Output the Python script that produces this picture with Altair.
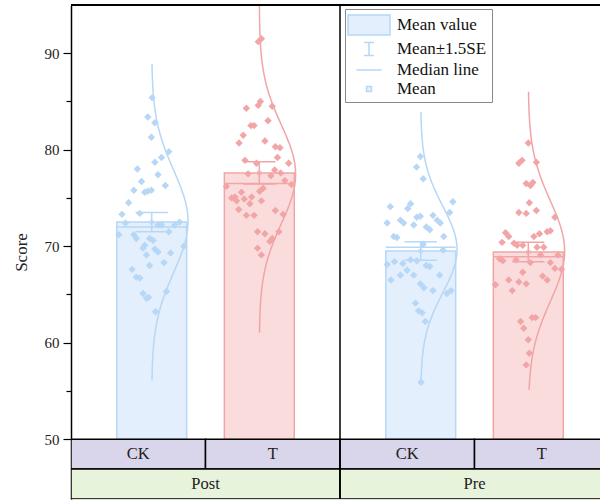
import altair as alt
import pandas as pd

# ---------------- data ----------------
conditions = ["Post", "Pre"]
groups = ["CK", "T"]

means = [72.5, 77.6, 69.5, 69.4]          # bar heights (mean value)
se15 = [1.0, 1.15, 0.95, 1.0]             # 1.5 * SE
medians = [72.0, 76.5, 69.9, 68.9]        # median line
curve_lo = [56, 61, 56, 55]               # extent of the distribution curves
curve_hi = [89, 97, 84, 86]

post_ck = [85.4, 83.4, 82.8, 81.3, 79.8, 79.2, 78.7, 78.0, 77.4, 76.7,
           76.3, 75.8, 75.6, 75.7, 75.8, 74.5, 73.3, 73.4, 72.4, 72.2,
           72.2, 72.2, 72.5, 71.2, 71.2, 70.8, 70.8, 70.6, 70.1, 69.8,
           69.7, 69.4, 69.3, 69.1, 71.5, 70.0, 68.0, 68.3, 67.6, 66.8,
           66.7, 65.1, 64.7, 64.6, 65.3, 63.2]
post_ck_jit = [0.01, -0.11, 0.09, -0.01, 0.49, 0.28, 0.09, -0.41, 0.18, -0.29,
               0.39, -0.51, -0.2, -0.11, -0.01, -0.66, -0.85, -0.34, -0.75, 0.18,
               0.28, 0.66, 0.8, -0.94, -0.51, -0.44, -0.06, 0.04, -0.2, -0.25,
               0.09, 0.18, 0.54, -0.15, 0.49, 0.92, -0.06, 0.35, -0.56, -0.44,
               -0.34, -0.25, -0.09, -0.15, 0.42, 0.11]

post_t = [91.2, 91.5, 84.3, 84.6, 85.0, 84.5, 82.5, 82.5, 83.0, 81.5,
          80.7, 80.9, 80.3, 80.2, 79.2, 78.9, 78.6, 78.6, 77.9, 77.5,
          77.6, 77.3, 76.8, 76.2, 76.4, 76.0, 75.7, 75.6, 75.0, 75.1,
          74.7, 74.9, 75.1, 74.7, 74.4, 73.8, 73.2, 73.2, 73.7, 73.3,
          71.5, 71.3, 71.5, 70.5, 70.8, 69.8, 69.1]
post_t_jit = [-0.03, 0.06, -0.37, -0.03, 0.03, 0.37, -0.24, -0.15, 0.25, -0.46,
              -0.58, 0.16, 0.46, 0.59, 0.52, -0.41, -0.08, 0.84, 0.44, -0.32,
              0.61, 0.33, 0.73, -0.94, 0.92, 0.11, 0.01, -0.51, -0.79, -0.7,
              -0.65, -0.43, -0.22, 0.06, -0.27, -0.59, -0.37, -0.15, 0.46, 0.68,
              -0.05, 0.16, 0.56, 0.3, 0.37, -0.05, 0.06]

pre_ck = [79.3, 78.2, 77.0, 74.1, 73.9, 74.4, 74.6, 73.5, 72.4, 72.7,
          72.4, 73.0, 73.1, 72.2, 73.2, 72.7, 72.4, 72.0, 71.7, 71.0,
          70.9, 71.0, 70.2, 69.6, 68.4, 68.1, 68.2, 68.6, 68.5, 67.5,
          68.0, 67.9, 66.5, 67.0, 67.0, 67.0, 66.1, 65.7, 65.4, 65.1,
          65.4, 64.1, 63.3, 63.1, 62.2, 55.9]
pre_ck_jit = [-0.01, -0.12, 0.07, -0.87, -0.37, -0.29, 0.92, 0.83, -0.96, -0.58,
              -0.49, -0.11, -0.01, -0.2, 0.35, 0.47, 0.56, 0.16, 0.26, -0.77,
              -0.68, 0.66, 0.07, 0.64, -0.75, -0.96, -0.51, -0.29, -0.11, -0.39,
              0.16, 0.26, -0.85, -0.58, -0.2, 0.54, -0.01, 0.09, 0.35, 0.75,
              0.87, -0.15, -0.06, 0.04, 0.13, 0.01]

pre_t = [80.7, 78.6, 78.9, 78.7, 76.5, 76.3, 76.6, 74.5, 73.5, 73.4,
         73.7, 73.0, 71.4, 71.0, 70.4, 70.3, 70.1, 70.1, 71.0, 71.3,
         71.5, 71.6, 69.9, 69.9, 68.7, 68.5, 68.6, 68.3, 69.1, 69.1,
         68.3, 67.7, 67.6, 67.3, 66.0, 66.5, 66.3, 66.1, 65.4, 66.9,
         66.5, 62.2, 62.6, 62.6, 61.5, 60.3, 58.9, 57.7]
pre_t_jit = [0.0, -0.27, -0.18, 0.23, -0.06, 0.06, 0.13, 0.03, -0.27, -0.06,
             0.23, 0.76, -0.65, -0.56, -0.75, -0.41, -0.32, -0.16, 0.16, 0.32,
             0.54, 0.63, 0.25, 0.44, -0.82, -0.73, -0.35, 0.06, 0.35, 0.85,
             0.63, 0.76, 0.95, -0.16, -0.94, -0.56, -0.27, -0.06, -0.46, 0.41,
             0.54, -0.22, 0.11, 0.21, -0.13, 0.0, 0.03, -0.06]

legend_items = ["Mean value", "Mean\u00b11.5SE", "Median line", "Mean"]

# ---------------- layout constants ----------------
HALF = 0.26        # bar half width (x units)
CAP = 0.12         # error-bar cap half width
CURVE_W = 0.27     # peak width of distribution curve
XMAX = 3.933
Y_TOP = 95.0
Y_AX = 50.0
Y_B1 = 46.9
Y_B2 = 43.8

BLUE_FILL, BLUE_LINE, BLUE_PT = "#e3effc", "#b6d7f6", "#a3cbf3"
RED_FILL, RED_LINE, RED_PT = "#fadcdd", "#f2a5a7", "#f3979a"
FONT = "Liberation Serif"

score_lists = [post_ck, post_t, pre_ck, pre_t]
jit_lists = [post_ck_jit, post_t_jit, pre_ck_jit, pre_t_jit]

pt_rows, st_rows, sub_rows, cond_rows = [], [], [], []
k = 0
for ci, cond in enumerate(conditions):
    cond_rows.append({"cond": cond, "x0": 2 * ci, "x1": 2 * ci + 2, "xm": 2 * ci + 1})
    for gi, grp in enumerate(groups):
        center = 2 * ci + 0.6 + 0.8 * gi
        key = f"{cond}-{grp}"
        sub_rows.append({"grp": grp, "x0": 2 * ci + gi, "x1": 2 * ci + gi + 1,
                         "xm": 2 * ci + gi + 0.5})
        st_rows.append({"key": key, "grp": grp, "center": center, "mean": means[k],
                        "e": se15[k], "median": medians[k]})
        for s, j in zip(score_lists[k], jit_lists[k]):
            pt_rows.append({"key": key, "grp": grp, "score": s,
                            "xp": center + j * HALF, "center": center,
                            "lo": curve_lo[k], "hi": curve_hi[k]})
        k += 1

pts = pd.DataFrame(pt_rows)
stats = pd.DataFrame(st_rows)
subs = pd.DataFrame(sub_rows)
conds = pd.DataFrame(cond_rows)
leg = pd.DataFrame({"item": legend_items})

xs = alt.Scale(domain=[0, XMAX], nice=False, zero=False)
ys = alt.Scale(domain=[Y_B2, Y_TOP], nice=False, zero=False)
fill_sc = alt.Scale(domain=groups, range=[BLUE_FILL, RED_FILL])
line_sc = alt.Scale(domain=groups, range=[BLUE_LINE, RED_LINE])
pt_sc = alt.Scale(domain=groups, range=[BLUE_PT, RED_PT])

yaxis = alt.Axis(
    values=[50, 55, 60, 65, 70, 75, 80, 85, 90],
    labelExpr="datum.value % 10 === 0 ? datum.label : ''",
    tickSize={"condition": {"test": "datum.value % 10 !== 0", "value": 5}, "value": 8},
    title="Score", grid=False, domainColor="black", domainWidth=1.5,
    tickColor="black", tickWidth=1.2, labelFont=FONT, labelFontSize=15,
    labelColor="#222", labelPadding=4, titleFont=FONT, titleFontSize=17,
    titleFontWeight="normal", titleColor="#222", titlePadding=14,
)

base_st = alt.Chart(stats)

bars = base_st.transform_calculate(
    xl=f"datum.center - {HALF}", xr=f"datum.center + {HALF}", y0=f"{Y_AX}"
).mark_rect(strokeWidth=1.5, clip=True).encode(
    x=alt.X("xl:Q", scale=xs, axis=None), x2="xr:Q",
    y=alt.Y("y0:Q", scale=ys, axis=yaxis), y2="mean:Q",
    fill=alt.Fill("grp:N", scale=fill_sc, legend=None),
    stroke=alt.Stroke("grp:N", scale=line_sc, legend=None),
)

curves = alt.Chart(pts).transform_joinaggregate(
    mu="mean(score)", sd="stdev(score)", groupby=["key"]
).transform_density(
    "score", groupby=["key", "grp", "mu", "sd", "center", "lo", "hi"],
    extent=[50, 98], steps=300, as_=["yv", "dens"]
).transform_filter(
    "datum.yv >= datum.lo && datum.yv <= datum.hi"
).transform_calculate(
    xv=f"datum.center + {CURVE_W} * exp(-0.5 * pow((datum.yv - datum.mu) / datum.sd, 2))"
).mark_line(strokeWidth=1.5, clip=True).encode(
    x=alt.X("xv:Q", scale=xs), y=alt.Y("yv:Q", scale=ys),
    color=alt.Color("grp:N", scale=line_sc, legend=None),
    detail="key:N", order="yv:Q",
)

points = alt.Chart(pts).mark_point(
    shape="diamond", filled=True, size=55, opacity=1, clip=True
).encode(
    x=alt.X("xp:Q", scale=xs), y=alt.Y("score:Q", scale=ys),
    color=alt.Color("grp:N", scale=pt_sc, legend=None),
)

err_v = base_st.transform_calculate(
    lo=f"datum.mean - datum.e", hi=f"datum.mean + datum.e"
).mark_rule(strokeWidth=1.5).encode(
    x=alt.X("center:Q", scale=xs), y=alt.Y("lo:Q", scale=ys), y2="hi:Q",
    color=alt.Color("grp:N", scale=line_sc, legend=None),
)
caps = base_st.transform_fold(["lo", "hi"], as_=["side", "v"]).transform_calculate(
    yy="datum.side === 'lo' ? datum.mean - datum.e : datum.mean + datum.e",
    cl=f"datum.center - {CAP}", cr=f"datum.center + {CAP}",
).mark_rule(strokeWidth=1.5).encode(
    x=alt.X("cl:Q", scale=xs), x2="cr:Q", y=alt.Y("yy:Q", scale=ys),
    color=alt.Color("grp:N", scale=line_sc, legend=None),
)
med = base_st.transform_calculate(
    xl=f"datum.center - {HALF}", xr=f"datum.center + {HALF}"
).mark_rule(strokeWidth=1.5).encode(
    x=alt.X("xl:Q", scale=xs), x2="xr:Q", y=alt.Y("median:Q", scale=ys),
    color=alt.Color("grp:N", scale=line_sc, legend=None),
)
mean_pt = base_st.mark_point(shape="square", size=12, filled=False, strokeWidth=1).encode(
    x=alt.X("center:Q", scale=xs), y=alt.Y("mean:Q", scale=ys),
    color=alt.Color("grp:N", scale=line_sc, legend=None),
)

# category bands under the axis
band1 = alt.Chart(subs).transform_calculate(ya=f"{Y_AX}", yb=f"{Y_B1}").mark_rect(
    fill="#d9d5eb", stroke="black", strokeWidth=1.5, clip=True
).encode(x=alt.X("x0:Q", scale=xs), x2="x1:Q", y=alt.Y("ya:Q", scale=ys), y2="yb:Q")
band1_t = alt.Chart(subs).transform_calculate(ym=f"{(Y_AX + Y_B1) / 2}").mark_text(
    font=FONT, fontSize=16.5, color="#222", baseline="middle"
).encode(x=alt.X("xm:Q", scale=xs), y=alt.Y("ym:Q", scale=ys), text="grp:N")
band2 = alt.Chart(conds).transform_calculate(ya=f"{Y_B1}", yb=f"{Y_B2}").mark_rect(
    fill="#e7f3da", stroke="black", strokeWidth=1.5, clip=True
).encode(x=alt.X("x0:Q", scale=xs), x2="x1:Q", y=alt.Y("ya:Q", scale=ys), y2="yb:Q")
band2_t = alt.Chart(conds).transform_calculate(ym=f"{(Y_B1 + Y_B2) / 2}").mark_text(
    font=FONT, fontSize=16.5, color="#222", baseline="middle"
).encode(x=alt.X("xm:Q", scale=xs), y=alt.Y("ym:Q", scale=ys), text="cond:N")

top_line = alt.Chart().mark_rule(color="black", strokeWidth=2).encode(
    y=alt.datum(Y_TOP, scale=ys)
)
divider = alt.Chart().mark_rule(color="black", strokeWidth=1.5).encode(
    x=alt.datum(2, scale=xs), y=alt.datum(Y_B2, scale=ys), y2=alt.datum(Y_TOP)
)

# legend (dummy points outside the view, clipped away)
paths = [
    "M-2.1,-1H2.1V1H-2.1Z",
    "M-0.5,-0.65H0.5M0,-0.65V0.65M-0.5,0.65H0.5",
    "M-1.25,0H1.25",
    "M-0.25,-0.25H0.25V0.25H-0.25Z",
]
lg = alt.Legend(
    title=None, orient="none", legendX=274, legendY=4, labelFont=FONT,
    labelFontSize=17, labelColor="#111", symbolSize=400, symbolStrokeWidth=1.5,
    symbolFillColor=BLUE_FILL, symbolStrokeColor=BLUE_LINE, symbolOpacity=1,
    padding=5, rowPadding=0, labelOffset=17, symbolOffset=8,
    strokeColor="#8a8a8a", fillColor="white", labelLimit=200,
)
leg_dom = legend_items
legend_layer = alt.Chart(leg).transform_calculate(lx="-5", ly="70").mark_point(
    clip=True, opacity=1, filled=True, strokeWidth=1.5,
).encode(
    x=alt.X("lx:Q", scale=xs), y=alt.Y("ly:Q", scale=ys),
    shape=alt.Shape("item:N", scale=alt.Scale(domain=leg_dom, range=paths), legend=lg),
    fill=alt.Fill("item:N", scale=alt.Scale(domain=leg_dom,
                  range=[BLUE_FILL, "#ffffff", "#ffffff", "#f2f7fd"]), legend=lg),
    stroke=alt.Stroke("item:N", scale=alt.Scale(domain=leg_dom,
                      range=[BLUE_LINE, BLUE_LINE, BLUE_LINE, BLUE_LINE]), legend=lg),
)

chart = alt.layer(
    bars, curves, points, err_v, caps, med, mean_pt,
    band1, band1_t, band2, band2_t, top_line, divider, legend_layer,
).properties(
    width=529, height=494,
    autosize=alt.AutoSizeParams(type="none"),
    padding={"left": 71, "top": 5, "right": 0, "bottom": 2},
).configure_view(stroke=None).configure(background="white")

chart.save("out.html", embed_options={"renderer": "svg", "actions": False})
